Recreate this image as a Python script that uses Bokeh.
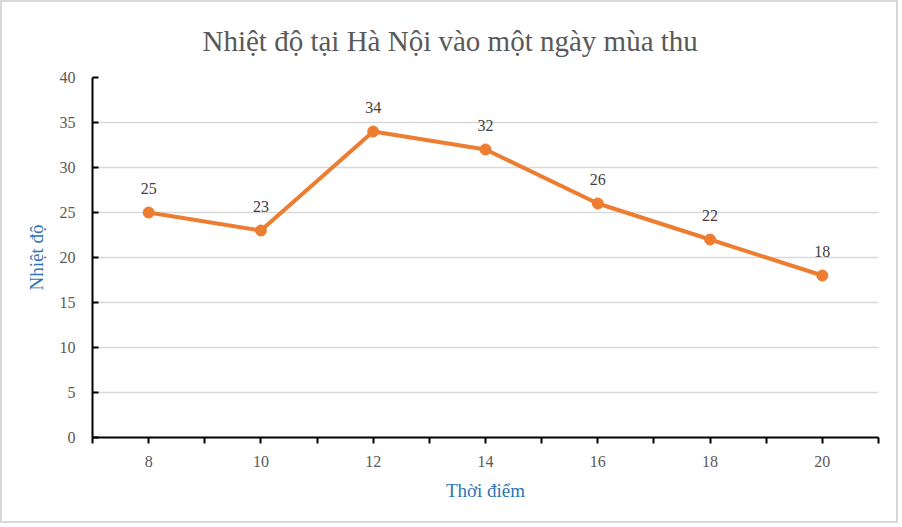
from bokeh.plotting import figure
from bokeh.models import ColumnDataSource, Range1d, FixedTicker, LabelSet
from bokeh.embed import file_html
from bokeh.resources import INLINE

hours = [8, 10, 12, 14, 16, 18, 20]
temps = [25, 23, 34, 32, 26, 22, 18]
y_ticks = [0, 5, 10, 15, 20, 25, 30, 35, 40]
title_text = "Nhiệt độ tại Hà Nội vào một ngày mùa thu"
x_title = "Thời điểm"
y_title = "Nhiệt độ"

FONT = "Liberation Serif"
GREY = "#595959"
ORANGE = "#ED7D31"
BLUE = "#2E75B6"

src = ColumnDataSource(dict(x=hours, y=temps, lab=[str(t) for t in temps]))

p = figure(width=898, height=523, output_backend="svg", toolbar_location=None,
           x_range=Range1d(hours[0] - 1, hours[-1] + 1), y_range=Range1d(y_ticks[0], y_ticks[-1]),
           min_border_left=90, min_border_right=22, min_border_top=74, min_border_bottom=88)
p.outline_line_color = None
p.background_fill_color = "white"
p.border_fill_color = "white"
p.styles = {"border": "2px solid #d9d9d9"}

p.title.text = title_text
p.title.text_font = FONT
p.title.text_font_size = "29px"
p.title.text_font_style = "normal"
p.title.text_color = GREY
p.title.align = "left"
p.title.offset = 110
p.title.standoff = 41

# y axis
p.yaxis.ticker = FixedTicker(ticks=y_ticks)
p.yaxis.axis_line_color = "black"
p.yaxis.axis_line_width = 2
p.yaxis.major_tick_line_color = "black"
p.yaxis.major_tick_line_width = 2
p.yaxis.major_tick_in = 6
p.yaxis.major_tick_out = 0
p.yaxis.minor_tick_line_color = None
p.yaxis.major_label_text_font = FONT
p.yaxis.major_label_text_font_size = "16px"
p.yaxis.major_label_text_color = GREY
p.yaxis.major_label_standoff = 17
p.yaxis.axis_label = y_title
p.yaxis.axis_label_text_font = FONT
p.yaxis.axis_label_text_font_size = "19px"
p.yaxis.axis_label_text_font_style = "normal"
p.yaxis.axis_label_text_color = BLUE
p.yaxis.axis_label_standoff = 10

# x axis
xt = list(range(hours[0] - 1, hours[-1] + 2))
p.xaxis.ticker = FixedTicker(ticks=xt)
p.xaxis.major_label_overrides = {t: (str(t) if t in hours else "") for t in xt}
p.xaxis.axis_line_color = "black"
p.xaxis.axis_line_width = 2
p.xaxis.major_tick_line_color = "black"
p.xaxis.major_tick_line_width = 2
p.xaxis.major_tick_in = 0
p.xaxis.major_tick_out = 6
p.xaxis.minor_tick_line_color = None
p.xaxis.major_label_text_font = FONT
p.xaxis.major_label_text_font_size = "16px"
p.xaxis.major_label_text_color = GREY
p.xaxis.major_label_standoff = 12
p.xaxis.axis_label = x_title
p.xaxis.axis_label_text_font = FONT
p.xaxis.axis_label_text_font_size = "19px"
p.xaxis.axis_label_text_font_style = "normal"
p.xaxis.axis_label_text_color = BLUE
p.xaxis.axis_label_standoff = 10

p.xgrid.grid_line_color = None
p.ygrid.grid_line_color = "#D9D9D9"
p.ygrid.grid_line_width = 1.5

p.line("x", "y", source=src, line_color=ORANGE, line_width=4)
p.scatter("x", "y", source=src, size=11, fill_color=ORANGE, line_color=ORANGE)

labels = LabelSet(x="x", y="y", text="lab", source=src, text_align="center",
                  text_baseline="bottom", y_offset=19, text_font=FONT,
                  text_font_size="16px", text_color="#404040")
p.add_layout(labels)

open("out.html", "w").write(file_html(p, INLINE))
